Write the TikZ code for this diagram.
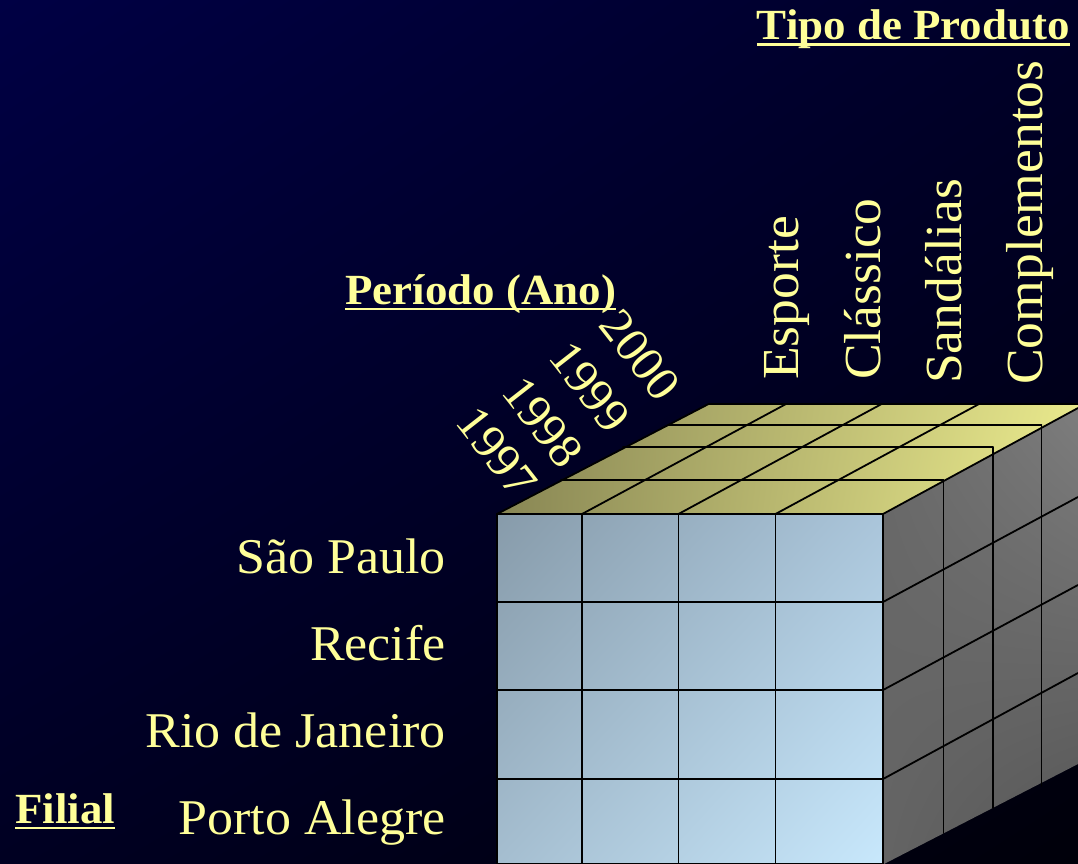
\documentclass[tikz,border=0pt]{standalone}
\usepackage{fontspec}
\setmainfont{Liberation Serif}
\newfontfamily\rowfont[FakeStretch=1.04]{Liberation Serif}
\newfontfamily\colfont[FakeStretch=1.03]{Liberation Serif}
\newfontfamily\titlefont[FakeStretch=1.045]{Liberation Serif Bold}
\usetikzlibrary{shadings}
\definecolor{labelyellow}{RGB}{255,255,153}
\definecolor{bgA}{RGB}{0,0,68}
\definecolor{bgB}{RGB}{0,0,40}
\definecolor{bgC}{RGB}{0,0,34}
\definecolor{bgD}{RGB}{0,0,10}
\definecolor{topA}{RGB}{136,134,84}
\definecolor{topB}{RGB}{232,232,140}
\definecolor{topC}{RGB}{238,238,142}
\definecolor{frontA}{RGB}{135,155,170}
\definecolor{frontB}{RGB}{170,197,218}
\definecolor{frontC}{RGB}{165,190,208}
\definecolor{frontD}{RGB}{200,232,252}
\definecolor{sideA}{RGB}{105,105,105}
\definecolor{sideB}{RGB}{125,125,125}
\definecolor{sideC}{RGB}{100,100,100}
\definecolor{sideD}{RGB}{85,85,85}
\newcommand{\titleline}[1]{\setbox0=\hbox{#1}\dp0=0pt \vtop{\box0\kern3.5pt\hrule height 2.6pt}}
\tikzset{
  gridline/.style={draw=black, line width=1.8pt, line cap=round},
  rowlabel/.style={text=labelyellow, font=\rowfont\fontsize{50}{50}\selectfont, inner sep=0pt, anchor=base east},
  collabel/.style={text=labelyellow, font=\colfont\fontsize{52}{52}\selectfont, inner sep=0pt, anchor=base west, rotate=90},
  yearlabel/.style={text=labelyellow, font=\colfont\fontsize{48}{48}\selectfont, inner sep=0pt, rotate=-52},
  axistitle/.style={text=labelyellow, font=\titlefont\fontsize{43}{43}\selectfont, inner sep=0pt}
}
\begin{document}
\begin{tikzpicture}[x=1pt, y=-1pt]
\useasboundingbox (0,0) rectangle (1078,864);
\shade[upper left=bgA, upper right=bgB, lower left=bgC, lower right=bgD] (0,0) rectangle (1078,864);
% faces of the cube
\shade[upper left=topA, lower left=topA, upper right=topB, lower right=topC] (497,514) -- (708.6,404) -- (1078,404) -- (1078,408) -- (883,514) -- cycle;
\shade[upper left=frontA, upper right=frontB, lower left=frontC, lower right=frontD] (497,514) rectangle (883,864);
\shade[upper left=sideA, upper right=sideB, lower left=sideC, lower right=sideD] (883,514) -- (1078,408) -- (1078,764) -- (884,864) -- cycle;
% front grid
\draw[gridline] (497,514) rectangle (883,864);
\draw[gridline] (582,514) -- (582,864);
\draw[gridline] (678.5,514) -- (678.5,864);
\draw[gridline] (775.5,514) -- (775.5,864);
\draw[gridline] (497,602) -- (883,602);
\draw[gridline] (497,690) -- (883,690);
\draw[gridline] (497,779) -- (883,779);
% top grid
\draw[gridline] (497,514) -- (708.6,404) -- (1078,404);
\draw[gridline] (561,480) -- (943.5,480);
\draw[gridline] (623,447) -- (992.7,447);
\draw[gridline] (668,425) -- (1041.5,425);
\draw[gridline] (582,514) -- (786,404);
\draw[gridline] (678.5,514) -- (881.6,404);
\draw[gridline] (775.5,514) -- (979,404);
% side grid
\draw[gridline] (883,514) -- (1078,408);
\draw[gridline] (883,602) -- (1078,497);
\draw[gridline] (883,690) -- (1078,585);
\draw[gridline] (883,779) -- (1078,673);
\draw[gridline] (943.5,480) -- (943.5,833);
\draw[gridline] (992.7,447) -- (992.7,808);
\draw[gridline] (1041.5,425) -- (1041.5,786);
% labels
\node[axistitle, anchor=base east] (produto) at (1070,40) {\titleline{Tipo de Produto}};
\node[axistitle, anchor=base west] (periodo) at (345,304) {\titleline{Período (Ano)}};
\node[axistitle, anchor=base west] (filial) at (15,823) {\titleline{Filial}};
\node[rowlabel] (saopaulo) at (446,573) {São Paulo};
\node[rowlabel] (recife) at (446,660) {Recife};
\node[rowlabel] (rio) at (446,747) {Rio de Janeiro};
\node[rowlabel] (portoalegre) at (446,834) {Porto Alegre};
\node[collabel] (esporte) at (798,380) {Esporte};
\node[collabel] (classico) at (880,380) {Clássico};
\node[collabel] (sandalias) at (961,384) {Sandálias};
\node[collabel] (complementos) at (1042,385) {Complementos};
\node[yearlabel] (ano1997) at (497,452) {1997};
\node[yearlabel] (ano1998) at (543,422) {1998};
\node[yearlabel] (ano1999) at (590,387) {1999};
\node[yearlabel] (ano2000) at (640,355) {2000};
\end{tikzpicture}
\end{document}
